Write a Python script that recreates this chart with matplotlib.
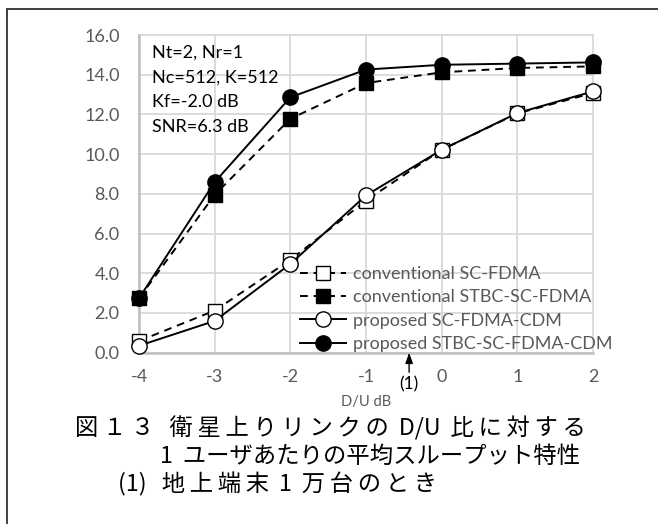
import matplotlib
matplotlib.use("Agg")
import matplotlib.pyplot as plt
from matplotlib.lines import Line2D

# D/U ratio (dB)
du_db = [-4, -3, -2, -1, 0, 1, 2]

# Average user throughput (Kbps)
conv_scfdma = [0.59, 2.12, 4.67, 7.66, 10.22, 12.05, 13.08]
conv_stbc = [2.74, 7.95, 11.78, 13.58, 14.12, 14.34, 14.42]
prop_scfdma_cdm = [0.35, 1.60, 4.47, 7.92, 10.22, 12.07, 13.16]
prop_stbc_cdm = [2.74, 8.59, 12.86, 14.26, 14.50, 14.56, 14.62]

series_labels = [
    "conventional SC-FDMA",
    "conventional STBC-SC-FDMA",
    "proposed SC-FDMA-CDM",
    "proposed STBC-SC-FDMA-CDM",
]

y_ticks = [0, 2, 4, 6, 8, 10, 12, 14, 16]
params_text = ["Nt=2, Nr=1", "Nc=512, K=512", "Kf=-2.0 dB", "SNR=6.3 dB"]
ts = "\u2009"  # thin space used as letter spacing in the caption
gap = " " + ts
caption_lines = [
    ts.join("図１３") + "  " + ts + ts.join("衛星上りリンクの") + gap + "D/U" + gap
    + ts.join("比に対する"),
    "1" + gap + "ユーザあたりの平均スループット特性",
    "(1)" + "  " + ts + ts.join("地上端末") + gap + "1" + gap + ts.join("万台のとき"),
]
marker_du = -0.43

W, H = 658, 524
fig = plt.figure(figsize=(W / 100, H / 100), dpi=100)
latin = ["Lato", "DejaVu Sans"]
cjk = ["Noto Sans CJK JP", "DejaVu Sans"]
gray_txt = "#595959"

ax = fig.add_axes([139 / W, 1 - 352.7 / H, (593 - 139) / W, (352.7 - 35) / H])
ax.set_xlim(-4, 2)
ax.set_ylim(0, 16)
ax.set_xticks(du_db)
ax.set_yticks(y_ticks)
ax.set_yticklabels([f"{v:.1f}" for v in y_ticks], fontfamily=latin, fontsize=13, color=gray_txt)
ax.set_xticklabels([str(v) for v in du_db], fontfamily=latin, fontsize=13, color=gray_txt)
ax.tick_params(axis="x", length=0, pad=12)
ax.tick_params(axis="y", length=0, pad=14)
ax.grid(True, color="#d9d9d9", linewidth=1.3, clip_on=False)
ax.set_axisbelow(True)
for s in ("top", "right"):
    ax.spines[s].set_visible(False)
for s in ("left", "bottom"):
    ax.spines[s].set_color("#bfbfbf")
    ax.spines[s].set_linewidth(1.8)

lw = 1.4
dash = (0, (4, 3))
ms = 10
h1, = ax.plot(du_db, conv_scfdma, linestyle=dash, color="black", lw=lw, marker="s",
              ms=ms, mfc="white", mec="black", mew=1.0, clip_on=False, zorder=3)
h2, = ax.plot(du_db, conv_stbc, linestyle=dash, color="black", lw=lw, marker="s",
              ms=ms, mfc="black", mec="black", mew=1.0, clip_on=False, zorder=3)
h3, = ax.plot(du_db, prop_scfdma_cdm, linestyle="-", color="black", lw=lw, marker="o",
              ms=ms + 1, mfc="white", mec="black", mew=1.0, clip_on=False, zorder=4)
h4, = ax.plot(du_db, prop_stbc_cdm, linestyle="-", color="black", lw=lw, marker="o",
              ms=ms + 1, mfc="black", mec="black", mew=1.0, clip_on=False, zorder=4)

ax.set_xlabel("D/U dB", fontfamily=latin, fontsize=10.5, color=gray_txt, labelpad=7)

leg = ax.legend([h1, h2, h3, h4], series_labels, loc="upper left",
                bbox_to_anchor=(300 / W, 1 - 266 / H), bbox_transform=fig.transFigure,
                frameon=False, prop={"family": latin, "size": 13}, labelcolor=gray_txt,
                handlelength=2.55, handletextpad=0.4, labelspacing=0.41, borderpad=0,
                borderaxespad=0)

for i, line in enumerate(params_text):
    fig.text(152 / W, 1 - (53 + 24.7 * i) / H, line, fontfamily=latin, fontsize=13,
             color="black", va="center", ha="left")

ax.annotate("(1)", xy=(marker_du, 0), xycoords="data",
            xytext=(marker_du, -1.6), textcoords="data", ha="center", va="center",
            fontsize=12.5, fontfamily=latin, color="black", annotation_clip=False,
            arrowprops=dict(arrowstyle="-|>,head_length=0.5,head_width=0.18",
                            color="black", lw=1.0, shrinkA=1, shrinkB=0))

caption_pos = [(75, 428), (160, 456), (118, 484)]
for (cx, cy), line in zip(caption_pos, caption_lines):
    fig.text(cx / W, 1 - cy / H, line, fontfamily=cjk, fontsize=16.8, color="black",
             va="center", ha="left")

# outer frame (open to the right and bottom edges)
fig.add_artist(Line2D([7 / W, 1.0], [1 - 9 / H, 1 - 9 / H], transform=fig.transFigure,
                      color="#404040", lw=1.4))
fig.add_artist(Line2D([7 / W, 7 / W], [1 - 9 / H, 0.0], transform=fig.transFigure,
                      color="#404040", lw=1.4))

fig.savefig("out.png", dpi=100)
